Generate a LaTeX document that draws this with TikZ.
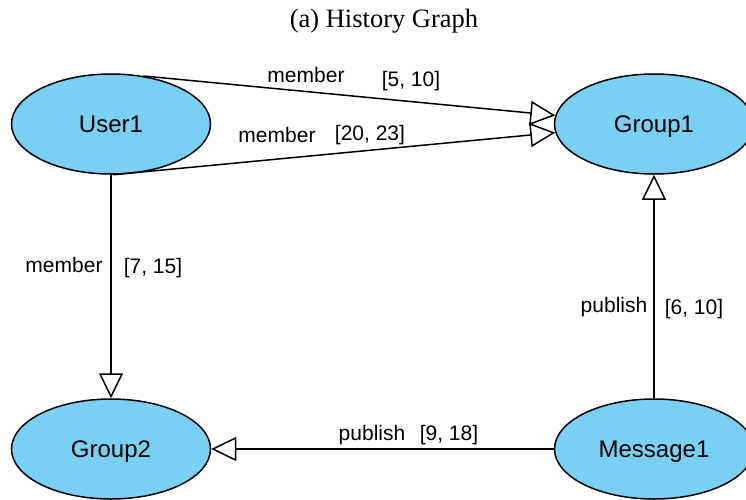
\documentclass[tikz,border=0pt]{standalone}
\usepackage{fontspec}
\setmainfont{Liberation Serif}
\setsansfont{Liberation Sans}
\usetikzlibrary{arrows.meta,shapes.geometric}
\definecolor{nodeblue}{RGB}{122,207,244}
\begin{document}
\begin{tikzpicture}[x=1pt,y=-1pt,
  vertex/.style={ellipse, draw, line width=1.5pt, fill=nodeblue,
    minimum width=199pt, minimum height=100pt, inner sep=0pt,
    font=\sffamily\fontsize{24}{28}\selectfont,
    text height=17.2pt, text depth=0pt},
  link/.style={line width=1.5pt,
    -{Triangle[open, length=25pt, width=24pt, fill=white]}},
  lbl/.style={font=\sffamily\fontsize{21}{25}\selectfont,
    anchor=base, inner sep=0pt}]
\useasboundingbox (0,0) rectangle (746,499);
\clip (0,0) rectangle (746,499);

% title
\node[font=\fontsize{26.5}{31}\selectfont, anchor=base, inner sep=0pt]
  (title) at (384,27.5) {(a) History Graph};

% vertices
\node[vertex] (User1)    at (111,124) {User1};
\node[vertex] (Group1)   at (654,124) {Group1};
\node[vertex] (Group2)   at (111,449) {Group2};
\node[vertex] (Message1) at (654,449) {Message1};

% edges
\draw[link] (User1.56)    -- (Group1.175);
\draw[link] (User1.-88)   -- (Group1.185);
\draw[link] (User1.south) -- (Group2.north);
\draw[link] (Message1.west)  -- (Group2.east);
\draw[link] (Message1.north) -- (Group1.south);

% edge labels
\node[lbl] (l1a) at (306,82)  {member};
\node[lbl] (l1b) at (411,86)  {[5, 10]};
\node[lbl] (l2a) at (277,142) {member};
\node[lbl] (l2b) at (370,140) {[20, 23]};
\node[lbl] (l3a) at (64,272)  {member};
\node[lbl] (l3b) at (153,273) {[7, 15]};
\node[lbl] (l4a) at (372,440) {publish};
\node[lbl] (l4b) at (449,440) {[9, 18]};
\node[lbl] (l5a) at (614,312) {publish};
\node[lbl] (l5b) at (694,314) {[6, 10]};
\end{tikzpicture}
\end{document}
